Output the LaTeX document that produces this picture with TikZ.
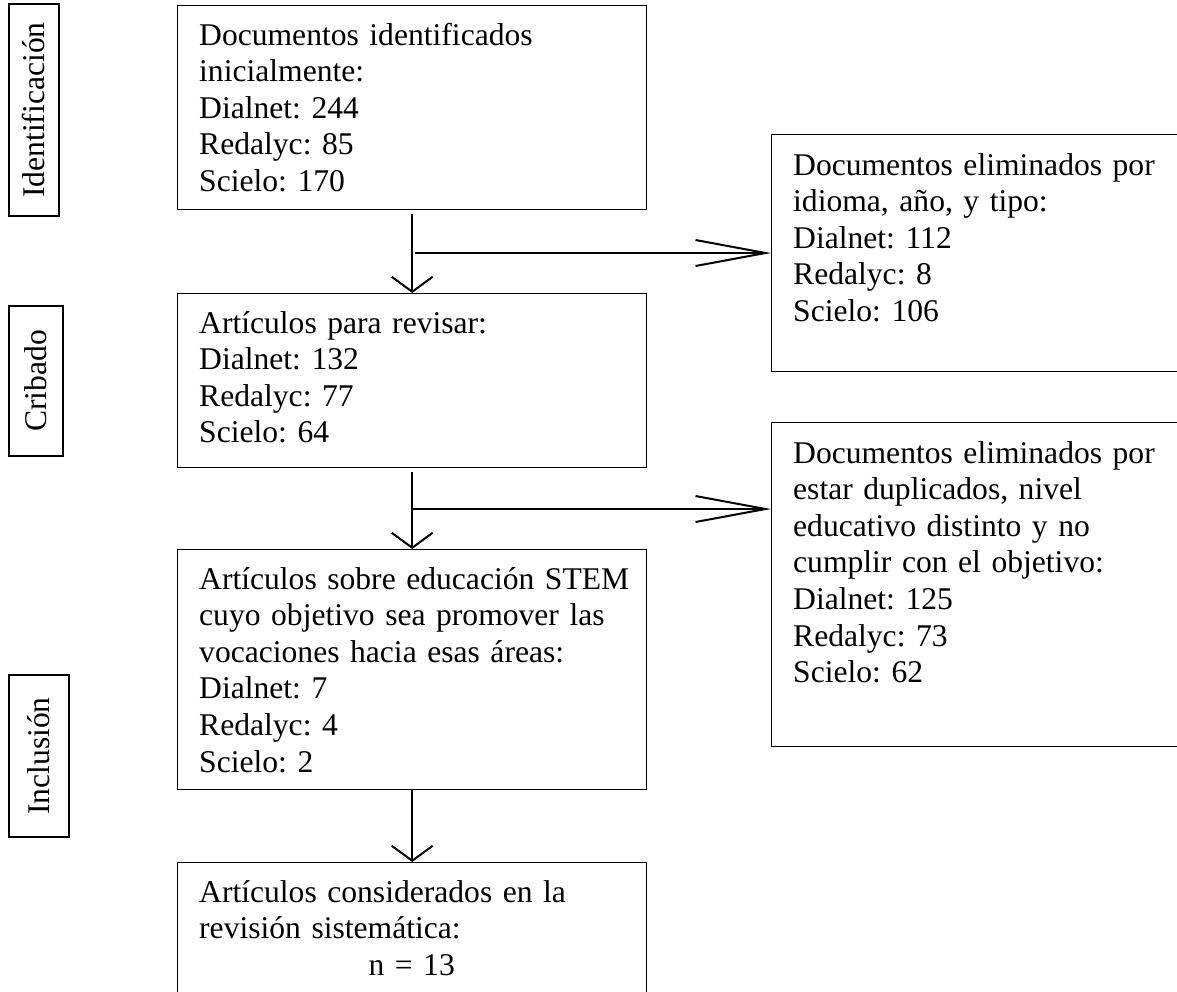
\documentclass[tikz,border=0pt]{standalone}
\usepackage{fontspec}
\setmainfont{Liberation Serif}
\usetikzlibrary{arrows.meta,calc}
\frenchspacing
\begin{document}
\begin{tikzpicture}[x=1pt,y=-1pt,
  frame/.style={draw=black, line width=1.4pt, inner sep=0pt, anchor=north west},
  txt/.style={anchor=base west, inner sep=0pt, align=left, text width=440pt, font=\fontsize{31.6}{36.6}\selectfont},
  stage/.style={draw=black, line width=1.4pt, inner sep=0pt, rotate=90, font=\fontsize{31.6}{36.6}\selectfont},
  down/.style={line width=2pt, -{Straight Barb[length=15pt, width=41pt]}},
  side/.style={line width=2pt, -{Straight Barb[length=70pt, width=26pt]}}]
\useasboundingbox (0,0) rectangle (1177,991);
\fill[white] (0,0) rectangle (1177,991);
\clip (0,0) rectangle (1177,991);

% stage labels
\node[stage, minimum width=212pt, minimum height=50pt] (s1) at (34,110) {Identificación};
\node[stage, minimum width=150pt, minimum height=54pt] (s2) at (36,381) {Cribado};
\node[stage, minimum width=162pt, minimum height=60pt] (s3) at (39,756) {Inclusión};

% main boxes
\node[frame, minimum width=469pt, minimum height=204pt] (b1) at (177,5) {};
\node[frame, minimum width=469pt, minimum height=174pt] (b2) at (177,293) {};
\node[frame, minimum width=469pt, minimum height=240pt] (b3) at (177,549) {};
\node[frame, minimum width=469pt, minimum height=160pt] (b4) at (177,862) {};
\node[frame, minimum width=420pt, minimum height=237pt] (r1) at (771,134) {};
\node[frame, minimum width=420pt, minimum height=324pt] (r2) at (771,422) {};

% texts
\node[txt] (t1) at (199,45) {Documentos identificados\\inicialmente:\\Dialnet: 244\\Redalyc: 85\\Scielo: 170};
\node[txt] (t2) at (199,333) {Artículos para revisar:\\Dialnet: 132\\Redalyc: 77\\Scielo: 64};
\node[txt] (t3) at (199,589) {Artículos sobre educación STEM\\cuyo objetivo sea promover las\\vocaciones hacia esas áreas:\\Dialnet: 7\\Redalyc: 4\\Scielo: 2};
\node[txt] (t4) at (199,902) {Artículos considerados en la\\revisión sistemática:\\\makebox[425pt][c]{n = 13}};
\node[txt] (u1) at (793,175) {Documentos eliminados por\\idioma, año, y tipo:\\Dialnet: 112\\Redalyc: 8\\Scielo: 106};
\node[txt] (u2) at (793,463) {Documentos eliminados por\\estar duplicados, nivel\\educativo distinto y no\\cumplir con el objetivo:\\Dialnet: 125\\Redalyc: 73\\Scielo: 62};

% connectors
\draw[down, shorten <=4pt] (b1) -- (b2);
\draw[down, shorten <=4pt] (b2) -- (b3);
\draw[down] (b3) -- (b4);
\coordinate (j1) at (415,253);
\coordinate (j2) at (412,509);
\draw[side] (j1) -- (j1 -| r1.west);
\draw[side] (j2) -- (j2 -| r2.west);
\end{tikzpicture}
\end{document}
